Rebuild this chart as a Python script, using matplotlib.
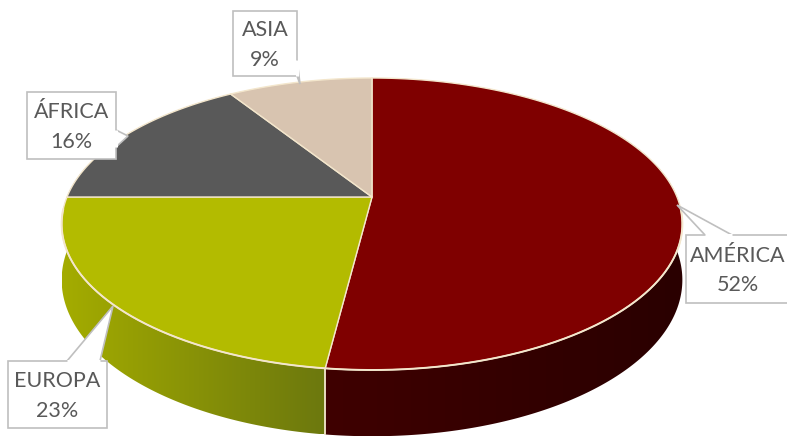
import numpy as np
import matplotlib.pyplot as plt
from matplotlib.patches import Polygon
from matplotlib.colors import to_rgb

# Share by continent
labels = ["AMÉRICA", "EUROPA", "ÁFRICA", "ASIA"]
values = [52, 23, 16, 9]
colors = ["#7f0000", "#b3bb00", "#595959", "#d8c4b0"]
# side wall shading, left edge colour -> right edge colour
side_colors = [("#3f0000", "#2a0000"), ("#a4ac00", "#6c780e"),
               ("#3a3a3a", "#3a3a3a"), ("#9c8c7c", "#9c8c7c")]

# pie geometry (pixels)
cx, cy = 372, 197
a, b, k = 141.0, 305.0, 0.185
depth = 54.0
rim = "#f3e6cc"

fig = plt.figure(figsize=(7.87, 4.36), dpi=100)
ax = fig.add_axes([0, 0, 1, 1])
ax.set_xlim(0, 787)
ax.set_ylim(436, 0)
ax.axis("off")


def proj(theta, r=1.0, z=0.0):
    u = r * np.sin(theta)
    v = -r * np.cos(theta)
    w = 1 - k * v
    return cx + b * u / w, cy + (a * v + z) / w


# slice angles, clockwise from 12 o'clock
frac = np.array(values) / sum(values)
edges = np.concatenate([[0], np.cumsum(frac)]) * 2 * np.pi

# side wall: only the part facing the viewer
lo, hi = np.radians(60), np.radians(300)
for i in range(len(values)):
    t0, t1 = max(edges[i], lo), min(edges[i + 1], hi)
    if t1 <= t0:
        continue
    th = np.linspace(t0, t1, 200)
    tx, ty = proj(th)
    bx, by = proj(th, z=depth)
    pts = list(zip(tx, ty)) + list(zip(bx[::-1], by[::-1]))
    poly = Polygon(pts, closed=True, facecolor="none", edgecolor="none")
    ax.add_patch(poly)
    xmin, xmax = min(tx.min(), bx.min()), max(tx.max(), bx.max())
    ymin, ymax = min(ty.min(), by.min()), max(ty.max(), by.max())
    c0, c1 = np.array(to_rgb(side_colors[i][0])), np.array(to_rgb(side_colors[i][1]))
    s = np.linspace(0, 1, 256)[None, :, None]
    grad = c0 + (c1 - c0) * s
    im = ax.imshow(grad, extent=(xmin, xmax, ymax, ymin), aspect="auto",
                   interpolation="bilinear", zorder=1)
    im.set_clip_path(poly)

ax.set_xlim(0, 787)
ax.set_ylim(436, 0)

# slice seams on the side wall
for e in edges:
    if -np.cos(e) > 0.3:
        x0, y0 = proj(e)
        x1, y1 = proj(e, z=depth)
        ax.plot([x0, x1], [y0, y1], color=rim, lw=1.3, zorder=2)

# top face
for i in range(len(values)):
    th = np.linspace(edges[i], edges[i + 1], 200)
    px, py = proj(th)
    pts = [(cx, cy)] + list(zip(px, py))
    ax.add_patch(Polygon(pts, closed=True, facecolor=colors[i],
                         edgecolor=rim, lw=1.0, joinstyle="round", zorder=3))

# bright front rim
th = np.linspace(np.radians(95), np.radians(265), 300)
px, py = proj(th)
ax.plot(px, py, color=rim, lw=1.4, zorder=4)


def callout(box, tip, base, text):
    x0, y0, x1, y1 = box
    ax.add_patch(Polygon([base[0], tip, base[1]], closed=True,
                         facecolor="white", edgecolor="#bfbfbf", lw=1.2, zorder=5))
    ax.add_patch(Polygon([(x0, y0), (x1, y0), (x1, y1), (x0, y1)], closed=True,
                         facecolor="white", edgecolor="#bfbfbf", lw=1.2, zorder=6))
    # hide the box border where the pointer joins it
    ax.plot([base[0][0], base[1][0]], [base[0][1], base[1][1]],
            color="white", lw=2.2, zorder=7, solid_capstyle="butt")
    ax.text((x0 + x1) / 2, (y0 + y1) / 2 + 1.5, text, ha="center", va="center",
            fontsize=15.5, color="#595959", family="Lato", linespacing=1.6, zorder=8)


callout((686, 235, 790, 303), (677, 205), [(705, 235), (732, 235)],
        f"{labels[0]}\n{values[0]}%")
callout((8, 361, 107, 428), (113, 306), [(67, 361), (100, 361)],
        f"{labels[1]}\n{values[1]}%")
callout((27, 92, 116, 159), (128, 136), [(116, 130), (116, 147)],
        f"{labels[2]}\n{values[2]}%")
callout((233, 11, 297, 76), (300, 84), [(297, 60), (297, 76)],
        f"{labels[3]}\n{values[3]}%")

fig.savefig("out.png", dpi=100)
